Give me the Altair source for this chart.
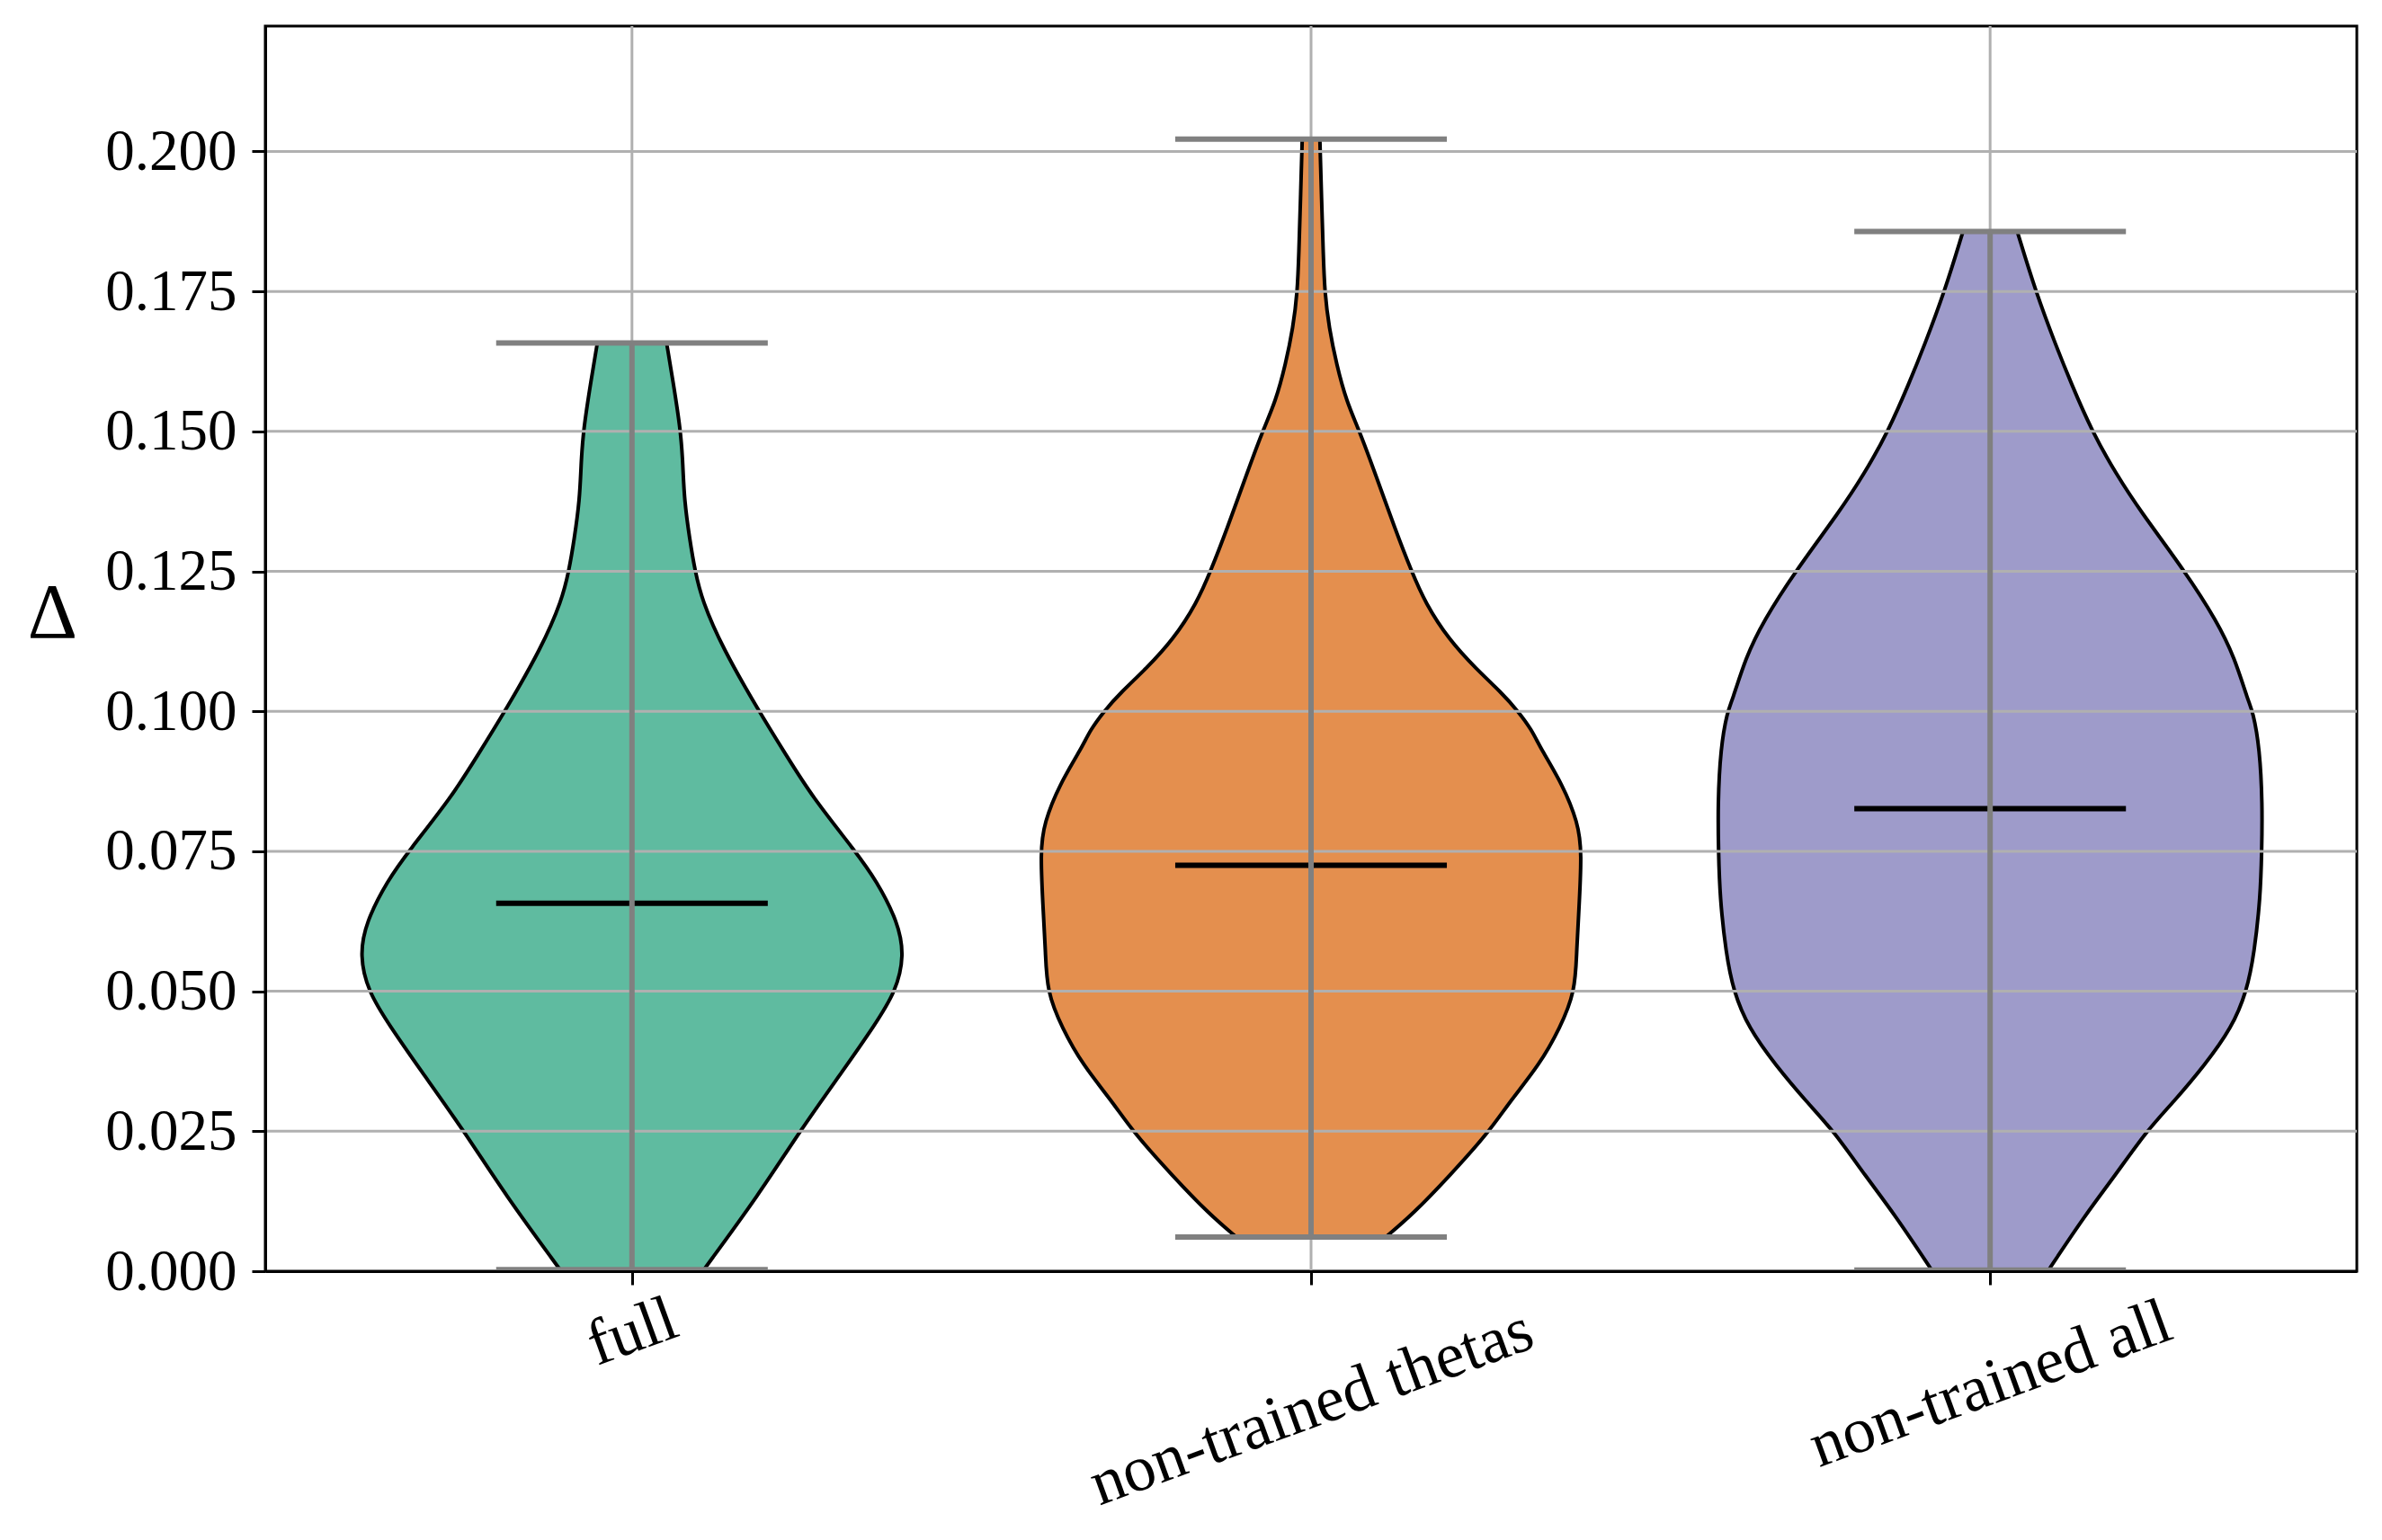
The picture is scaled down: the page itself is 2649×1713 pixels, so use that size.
import altair as alt
import pandas as pd

# ---------------- data ----------------
categories = ["full", "non-trained thetas", "non-trained all"]
positions = [1, 2, 3]
colors = ["#5fbba0", "#e48f4e", "#9e9bca"]
mins = [0.0003, 0.0061, 0.0002]
maxs = [0.1658, 0.2022, 0.1857]
medians = [0.0657, 0.0725, 0.0826]

# violin outlines: value level and half width (in x-position units)
full_levels = [0.0003, 0.0137, 0.025, 0.0362, 0.0437, 0.050, 0.0564, 0.0623,
               0.0698, 0.075, 0.0848, 0.0922, 0.100, 0.1114, 0.1199, 0.125,
               0.1307, 0.1378, 0.144, 0.150, 0.1593, 0.1658]
full_halfwidth = [0.106, 0.187, 0.247, 0.313, 0.356, 0.389, 0.401, 0.392,
                  0.360, 0.329, 0.265, 0.227, 0.187, 0.133, 0.103, 0.093,
                  0.085, 0.077, 0.075, 0.072, 0.060, 0.051]

thetas_levels = [0.0061, 0.0102, 0.0169, 0.025, 0.0302, 0.0368, 0.0435, 0.050,
                 0.057, 0.0635, 0.075, 0.0801, 0.0868, 0.0934, 0.0967, 0.100,
                 0.1034, 0.1076, 0.1128, 0.1194, 0.125, 0.1325, 0.1423, 0.150,
                 0.1554, 0.162, 0.1685, 0.175, 0.1816, 0.1915, 0.2022]
thetas_halfwidth = [0.110, 0.150, 0.203, 0.263, 0.292, 0.336, 0.367, 0.389,
                    0.391, 0.394, 0.399, 0.393, 0.371, 0.338, 0.325, 0.305,
                    0.280, 0.243, 0.203, 0.168, 0.148, 0.124, 0.095, 0.0716,
                    0.052, 0.0375, 0.0265, 0.020, 0.018, 0.0155, 0.013]

all_levels = [0.0002, 0.0102, 0.0169, 0.025, 0.0302, 0.0368, 0.0435, 0.050,
              0.0568, 0.0668, 0.075, 0.0834, 0.0934, 0.100, 0.1018, 0.1096,
              0.1161, 0.125, 0.1358, 0.1423, 0.150, 0.1587, 0.1653, 0.175,
              0.1857]
all_halfwidth = [0.086, 0.141, 0.183, 0.230, 0.270, 0.316, 0.356, 0.378,
                 0.389, 0.398, 0.400, 0.401, 0.397, 0.387, 0.380, 0.360,
                 0.334, 0.287, 0.221, 0.186, 0.150, 0.119, 0.097, 0.067,
                 0.040]

y_ticks = [0.0, 0.025, 0.05, 0.075, 0.1, 0.125, 0.15, 0.175, 0.2]
cap_half = 0.2

# ---------------- tables ----------------
outline_levels = [full_levels, thetas_levels, all_levels]
outline_widths = [full_halfwidth, thetas_halfwidth, all_halfwidth]
rows = []
for cat, pos, lv, hw in zip(categories, positions, outline_levels, outline_widths):
    for v, w in zip(lv, hw):
        rows.append({"group": cat, "level": v, "lo": pos - w, "hi": pos + w})
violin_df = pd.DataFrame(rows)

stats_df = pd.DataFrame({
    "group": categories,
    "pos": positions,
    "mn": mins,
    "mx": maxs,
    "med": medians,
    "cap_lo": [p - cap_half for p in positions],
    "cap_hi": [p + cap_half for p in positions],
})
hgrid_df = pd.DataFrame({"g": y_ticks[1:]})
vgrid_df = pd.DataFrame({"p": positions})

# ---------------- layout ----------------
W, H = 2326, 1385
FONT = "Liberation Serif"

xscale = alt.Scale(domain=[0.46, 3.54], nice=False, zero=False)
yscale = alt.Scale(domain=[0, 0.2224], nice=False, zero=False)

label_expr = " : ".join(
    f"datum.value == {p} ? '{c}'" for p, c in zip(positions[:-1], categories[:-1])
) + f" : '{categories[-1]}'"

xaxis = alt.Axis(
    values=positions, labelExpr=label_expr, title=None,
    labelAngle=340, labelAlign="center", labelBaseline="middle",
    labelPadding={"condition": [{"test": "datum.value == 1", "value": 52},
                                {"test": "datum.value == 2", "value": 136},
                                ],
                  "value": 110},
    labelFont=FONT, labelFontSize=72, labelColor="black", labelLimit=0,
    labelFlush=False, labelOverlap=False,
    tickSize=15, tickWidth=3, tickColor="black",
    domainColor="black", domainWidth=3, grid=False, zindex=1,
)
yaxis = alt.Axis(
    values=y_ticks, format=".3f", labelFont=FONT, labelFontSize=65,
    labelColor="black", labelPadding=17, labelFlush=False, labelOverlap=False,
    tickSize=15, tickWidth=3, tickColor="black",
    domainColor="black", domainWidth=3, grid=False, zindex=1,
    title="Δ", titleAngle=0, titleFont=FONT, titleFontSize=86,
    titleFontWeight="normal", titleColor="black",
    titleAlign="center", titleBaseline="alphabetic", titleX=-237, titleY=679,
)

vgrid = alt.Chart(vgrid_df).mark_rule(color="#b0b0b0", strokeWidth=3).encode(
    x=alt.X("p:Q", scale=xscale, axis=xaxis),
    y=alt.value(0), y2=alt.value(H),
)

violins = alt.Chart(violin_df).mark_area(
    orient="horizontal", interpolate="basis", stroke="black",
    strokeWidth=4, opacity=1,
).encode(
    y=alt.Y("level:Q", scale=yscale, axis=yaxis),
    x=alt.X("lo:Q", scale=xscale, axis=xaxis),
    x2="hi:Q",
    color=alt.Color("group:N", scale=alt.Scale(domain=categories, range=colors),
                    legend=None),
)

hgrid = alt.Chart(hgrid_df).mark_rule(color="#b0b0b0", strokeWidth=3).encode(
    y=alt.Y("g:Q", scale=yscale, axis=yaxis),
    x=alt.value(0), x2=alt.value(W),
)

med = alt.Chart(stats_df).mark_rule(color="black", strokeWidth=6).encode(
    y=alt.Y("med:Q", scale=yscale, axis=yaxis),
    x=alt.X("cap_lo:Q", scale=xscale, axis=xaxis), x2="cap_hi:Q",
)
bars = alt.Chart(stats_df).mark_rule(color="#808080", strokeWidth=6).encode(
    x=alt.X("pos:Q", scale=xscale, axis=xaxis),
    y=alt.Y("mn:Q", scale=yscale, axis=yaxis), y2="mx:Q",
)
cap_min = alt.Chart(stats_df).mark_rule(color="#808080", strokeWidth=6).encode(
    y=alt.Y("mn:Q", scale=yscale, axis=yaxis),
    x=alt.X("cap_lo:Q", scale=xscale, axis=xaxis), x2="cap_hi:Q",
)
cap_max = alt.Chart(stats_df).mark_rule(color="#808080", strokeWidth=6).encode(
    y=alt.Y("mx:Q", scale=yscale, axis=yaxis),
    x=alt.X("cap_lo:Q", scale=xscale, axis=xaxis), x2="cap_hi:Q",
)

chart = alt.layer(vgrid, violins, hgrid, med, bars, cap_min, cap_max).properties(
    width=W, height=H,
    autosize=alt.AutoSizeParams(type="none"),
    padding={"left": 287, "top": 21, "right": 20, "bottom": 292},
    background="white",
).configure_view(stroke="black", strokeWidth=3)

chart.save("out.html", embed_options={"renderer": "svg", "actions": False})
